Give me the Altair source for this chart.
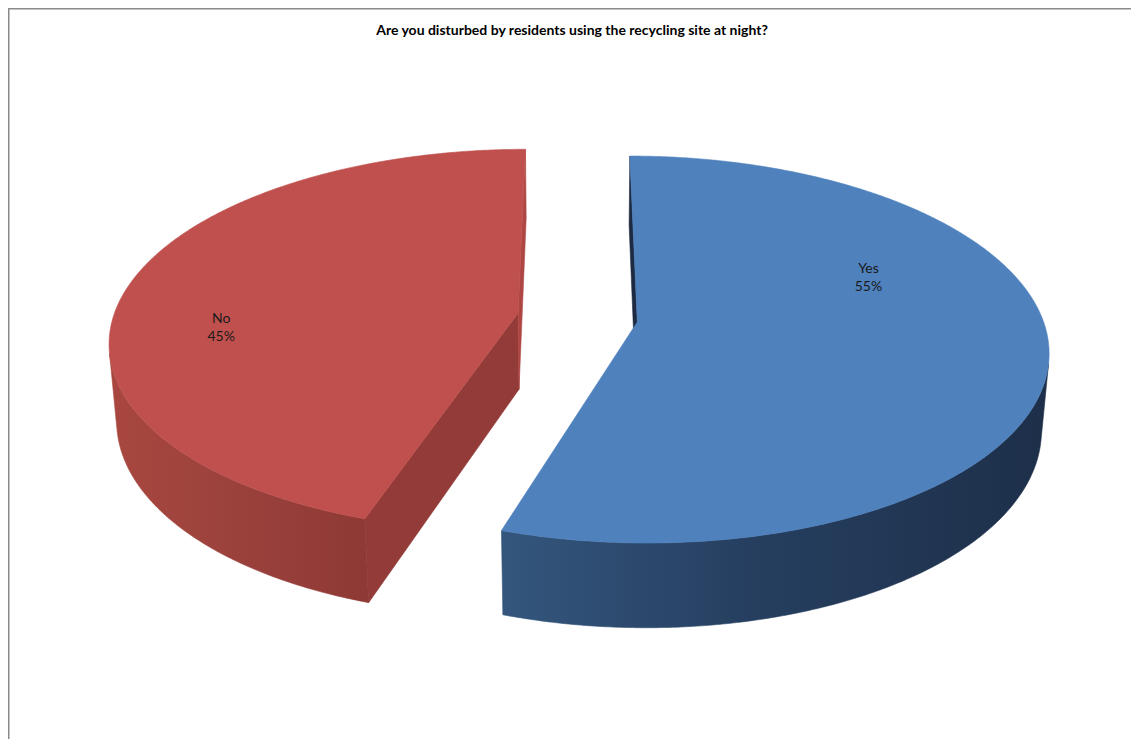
import numpy as np
import pandas as pd
import altair as alt

# ---------------- data ----------------
TITLE = "Are you disturbed by residents using the recycling site at night?"
categories = ["Yes", "No"]
values = [55, 45]
percent_labels = ["55%", "45%"]

# ---------------- styles ----------------
top_colors = ["#4F81BD", "#C0504D"]
wall_light = ["#34567D", "#A8473F"]
wall_mid = ["#263F60", "#9C423D"]
wall_dark = ["#1D2F49", "#8E3935"]
start_face_colors = ["#1C2B42", "#933B38"]
end_face_colors = ["#1C2B42", "#AE4744"]

# ---------------- 3D projection layout ----------------
DIST = 6.24          # camera distance (pie radius = 1)
FOCAL = 2527.0       # px
SIN_PHI, COS_PHI = 0.465, 0.885   # elevation
DEPTH = 0.216        # pie thickness
EXPLODE = 0.149      # explosion distance
X0, Y0 = 577.5, 317.6  # page position of pie centre
CAM = np.array([0.0, DIST * SIN_PHI, DIST * COS_PHI])
LABEL_SHIFT = [-31.0, -15.0]   # label angle shift from bisector (deg)
LABEL_R = [0.64, 0.73]         # label radius fraction
N = 400


def project(X, Y, Z):
    xc = X
    yc = Y * COS_PHI - Z * SIN_PHI
    d = DIST - Z * COS_PHI - Y * SIN_PHI
    return X0 + FOCAL * xc / d, Y0 - FOCAL * yc / d


def rim(o, th, Y):
    return o[0] + np.sin(th), Y, o[2] - np.cos(th)


rows = []
label_rows = []


def add(face, pts):
    for i, (x, y) in enumerate(pts):
        rows.append({"face": face, "i": i, "px": float(x), "py": float(y)})


total = float(sum(values))
start = 0.0
for k, (cat, v) in enumerate(zip(categories, values)):
    s = start
    e = start + 2 * np.pi * v / total
    start = e
    mid = (s + e) / 2
    o = np.array([EXPLODE * np.sin(mid), 0.0, -EXPLODE * np.cos(mid)])
    ths = np.linspace(s, e, N)

    # top face
    pts = [project(o[0], 0.0, o[2])]
    X, Y, Z = rim(o, ths, 0.0)
    px, py = project(X, Y, Z)
    pts += list(zip(px, py))
    add(f"{cat}_top", pts)

    # outer wall (visible part only)
    P = np.stack([X, np.zeros_like(X), Z], axis=1)
    U = np.stack([np.sin(ths), np.zeros_like(ths), -np.cos(ths)], axis=1)
    vis = np.einsum("ij,ij->i", U, CAM[None, :] - P) > 0
    tv = ths[vis]
    if len(tv) > 1:
        Xt, Yt, Zt = rim(o, tv, 0.0)
        Xb, Yb, Zb = rim(o, tv, -DEPTH)
        tx, ty = project(Xt, Yt, Zt)
        bx, by = project(Xb, Yb, Zb)
        add(f"{cat}_wall", list(zip(tx, ty)) + list(zip(bx[::-1], by[::-1])))

    # radial faces
    for name, th, nrm in [
        ("start", s, -np.array([np.cos(s), 0, np.sin(s)])),
        ("end", e, np.array([np.cos(e), 0, np.sin(e)])),
    ]:
        if np.dot(nrm, CAM - o) > 0:
            quad = [
                project(o[0], 0.0, o[2]),
                project(*rim(o, th, 0.0)),
                project(*rim(o, th, -DEPTH)),
                project(o[0], -DEPTH, o[2]),
            ]
            add(f"{cat}_{name}", quad)

    # label anchor
    psi = mid + np.deg2rad(LABEL_SHIFT[k])
    r = LABEL_R[k]
    lx, ly = project(o[0] + r * np.sin(psi), 0.0, o[2] - r * np.cos(psi))
    label_rows.append({"label": f"{cat}\n{percent_labels[k]}", "px": float(lx), "py": float(ly)})

df = pd.DataFrame(rows)
labels_df = pd.DataFrame(label_rows)

W, H = 1123, 731
xs = alt.Scale(domain=[8, 8 + W], nice=False, zero=False)
ys = alt.Scale(domain=[8, 8 + H], nice=False, zero=False, reverse=True)

base = alt.Chart(df)


def face_layer(face, fill):
    return (
        base.transform_filter(alt.datum.face == face)
        .mark_line(fill=fill, stroke=fill, strokeWidth=0.6, interpolate="linear-closed")
        .encode(
            x=alt.X("px:Q", scale=xs, axis=None),
            y=alt.Y("py:Q", scale=ys, axis=None),
            order=alt.Order("i:Q"),
        )
    )


def grad(k):
    return alt.Gradient(
        gradient="linear",
        stops=[
            alt.GradientStop(color=wall_light[k], offset=0),
            alt.GradientStop(color=wall_mid[k], offset=0.45),
            alt.GradientStop(color=wall_dark[k], offset=1),
        ],
        x1=0, x2=1, y1=0, y2=0,
    )


layers = []
faces_present = set(df["face"])
for k in [1, 0]:
    cat = categories[k]
    if f"{cat}_start" in faces_present:
        layers.append(face_layer(f"{cat}_start", start_face_colors[k]))
    if f"{cat}_end" in faces_present:
        layers.append(face_layer(f"{cat}_end", end_face_colors[k]))
    if f"{cat}_wall" in faces_present:
        layers.append(face_layer(f"{cat}_wall", grad(k)))
    layers.append(face_layer(f"{cat}_top", top_colors[k]))

labels = (
    alt.Chart(labels_df)
    .mark_text(font="Lato", fontSize=14, lineBreak="\n", lineHeight=18,
               align="center", baseline="middle", color="#1a1a1a", dy=-9)
    .encode(x=alt.X("px:Q", scale=xs, axis=None),
            y=alt.Y("py:Q", scale=ys, axis=None),
            text="label:N")
)

one = pd.DataFrame({"t": [TITLE]})
title = (
    alt.Chart(one)
    .mark_text(font="Lato", fontSize=14, fontWeight="bold", align="center",
               baseline="middle", color="#000000")
    .encode(x=alt.value(564), y=alt.value(23), text="t:N")
)
border_left = alt.Chart(one).mark_rule(color="#8a8a8a", strokeWidth=1.5).encode(
    x=alt.value(0.75), y=alt.value(0), y2=alt.value(H))
border_top = alt.Chart(one).mark_rule(color="#8a8a8a", strokeWidth=1.5).encode(
    y=alt.value(0.75), x=alt.value(0), x2=alt.value(W))

chart = (
    alt.layer(*layers, labels, title, border_left, border_top)
    .properties(width=W, height=H, padding=0, autosize=alt.AutoSizeParams(type="none"))
    .configure_view(stroke=None)
    .configure(background="white")
)

chart.save("out.html", embed_options={"renderer": "svg", "actions": False})
